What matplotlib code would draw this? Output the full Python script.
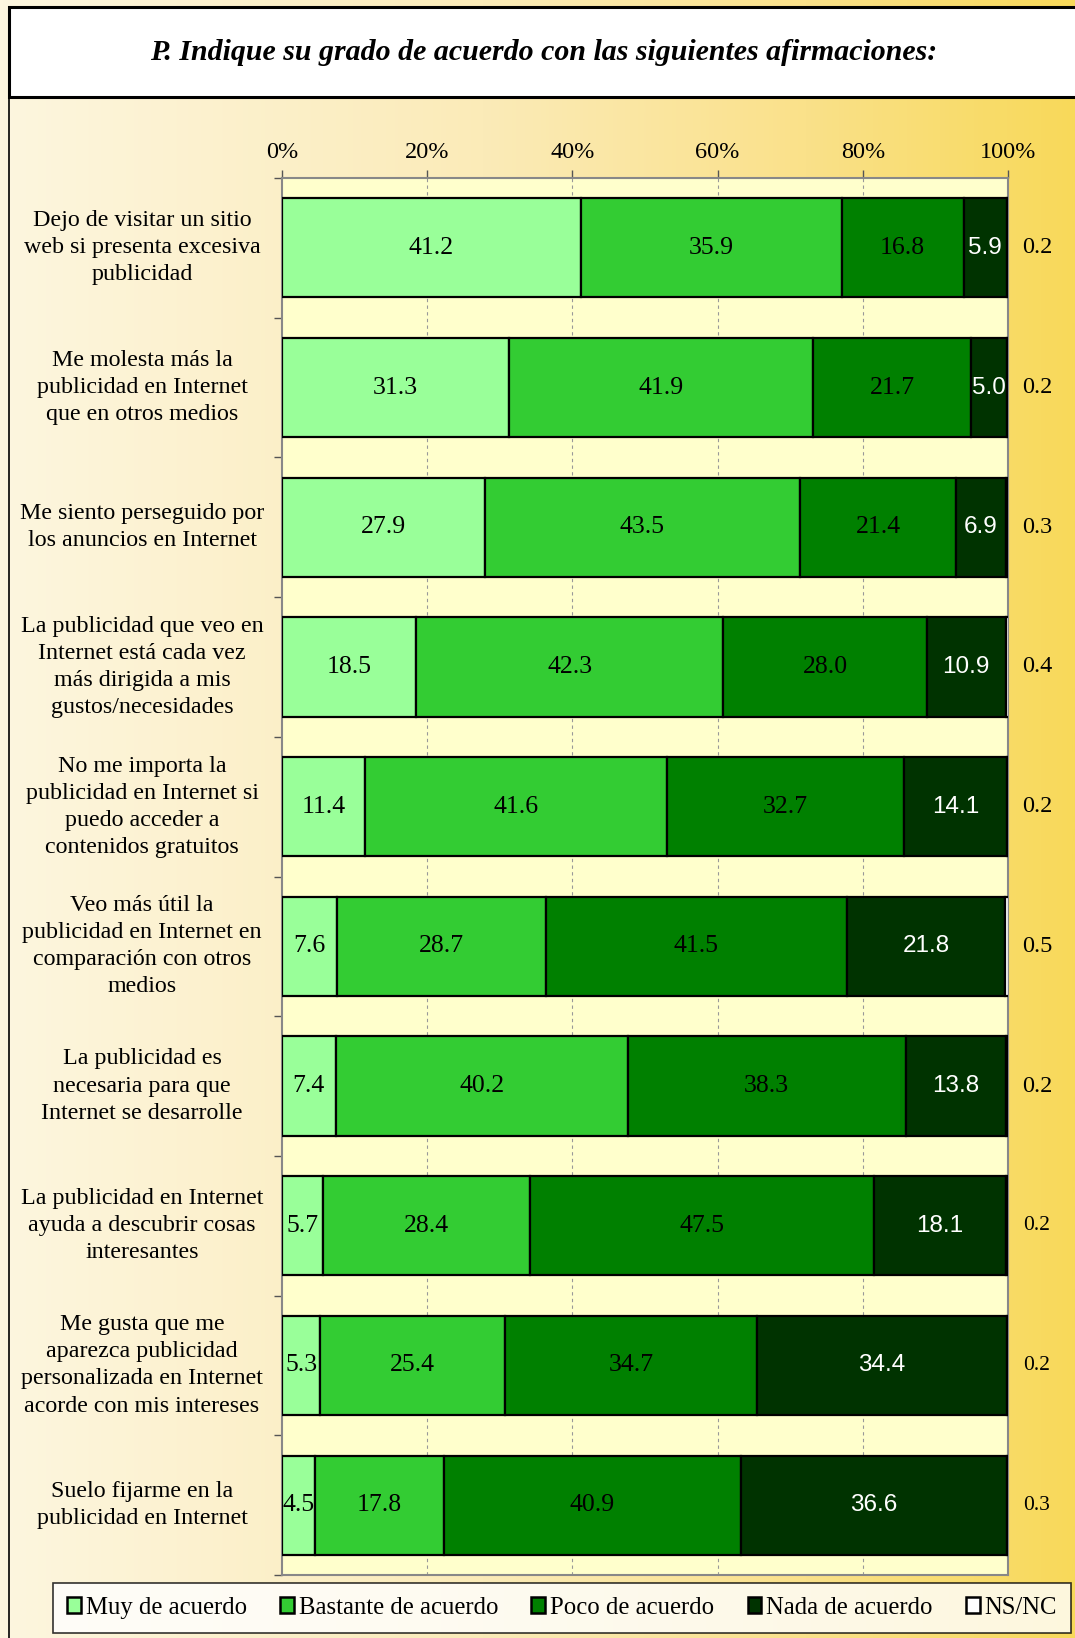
import numpy as np
import matplotlib
matplotlib.use('Agg')
import matplotlib.pyplot as plt
import matplotlib.transforms as mtransforms
from matplotlib.patches import Rectangle, Patch
from matplotlib.colors import LinearSegmentedColormap

plt.rcParams['font.family'] = ['Liberation Serif', 'DejaVu Serif']

categorias = [
    'Dejo de visitar un sitio\nweb si presenta excesiva\npublicidad',
    'Me molesta más la\npublicidad en Internet\nque en otros medios',
    'Me siento perseguido por\nlos anuncios en Internet',
    'La publicidad que veo en\nInternet está cada vez\nmás dirigida a mis\ngustos/necesidades',
    'No me importa la\npublicidad en Internet si\npuedo acceder a\ncontenidos gratuitos',
    'Veo más útil la\npublicidad en Internet en\ncomparación con otros\nmedios',
    'La publicidad es\nnecesaria para que\nInternet se desarrolle',
    'La publicidad en Internet\nayuda a descubrir cosas\ninteresantes',
    'Me gusta que me\naparezca publicidad\npersonalizada en Internet\nacorde con mis intereses',
    'Suelo fijarme en la\npublicidad en Internet',
]
series = ['Muy de acuerdo', 'Bastante de acuerdo', 'Poco de acuerdo',
          'Nada de acuerdo', 'NS/NC']
muy = [41.2, 31.3, 27.9, 18.5, 11.4, 7.6, 7.4, 5.7, 5.3, 4.5]
bastante = [35.9, 41.9, 43.5, 42.3, 41.6, 28.7, 40.2, 28.4, 25.4, 17.8]
poco = [16.8, 21.7, 21.4, 28.0, 32.7, 41.5, 38.3, 47.5, 34.7, 40.9]
nada = [5.9, 5.0, 6.9, 10.9, 14.1, 21.8, 13.8, 18.1, 34.4, 36.6]
nsnc = [0.2, 0.2, 0.3, 0.4, 0.2, 0.5, 0.2, 0.2, 0.2, 0.3]
colores = ['#99FF99', '#33CC33', '#008000', '#003300', '#FFFFFF']
ticks = [0, 20, 40, 60, 80, 100]

W, H = 1075, 1638
fig = plt.figure(figsize=(W / 100, H / 100), dpi=100)

# fondo degradado
bg = fig.add_axes([0, 0, 1, 1], zorder=-10)
cmap = LinearSegmentedColormap.from_list(
    'fondo', [(0, '#FDF6DF'), (0.45, '#FBEBB8'), (0.75, '#FAE18A'), (1, '#F8D95A')])
grad = np.linspace(0, 1, 512).reshape(1, -1)
bg.imshow(grad, aspect='auto', cmap=cmap, extent=[0, 1, 0, 1])
bg.set_xlim(0, 1)
bg.set_ylim(0, 1)
bg.axis('off')

# caja del titulo
fig.patches.append(Rectangle((9 / W, 1 - 97 / H), 1.2, 90 / H, transform=fig.transFigure,
                             facecolor='white', edgecolor='black', lw=2.2, zorder=1))
fig.add_artist(plt.Line2D([9 / W, 9 / W], [0, 1 - 97 / H], transform=fig.transFigure,
                          color='black', lw=1.2))
fig.text(544 / W, 1 - 53 / H, 'P. Indique su grado de acuerdo con las siguientes afirmaciones:',
         ha='center', va='center', fontsize=21.5, fontweight='bold', fontstyle='italic')

ax = fig.add_axes([282 / W, 1 - 1575 / H, 726 / W, (1575 - 178) / H])
ax.set_facecolor('#FFFFCC')

y = np.arange(len(categorias))
datos = [muy, bastante, poco, nada, nsnc]
izq = np.zeros(len(categorias))
for i, vals in enumerate(datos):
    vals = np.array(vals)
    ax.barh(y, vals, left=izq, height=0.71, color=colores[i], edgecolor='black',
            lw=1.6, zorder=3)
    for j in range(len(y)):
        xc = izq[j] + vals[j] / 2
        if i < 3:
            ax.text(xc, y[j], f'{vals[j]:.1f}', ha='center', va='center',
                    fontsize=18.5, color='black', zorder=4)
        elif i == 3:
            ax.text(xc, y[j], f'{vals[j]:.1f}', ha='center', va='center',
                    fontsize=17.5, color='white', family='Liberation Sans', zorder=4)
    izq += vals

tr = mtransforms.blended_transform_factory(ax.transAxes, ax.transData)
for j in range(len(y)):
    ax.text(1.04, y[j], f'{nsnc[j]:.1f}', transform=tr, ha='center', va='center',
            fontsize=17.5 if j < 7 else 15.5, clip_on=False)

trl = mtransforms.blended_transform_factory(fig.transFigure, ax.transData)
for j, c in enumerate(categorias):
    ax.text(142 / W, y[j], c, transform=trl, ha='center', va='center',
            fontsize=17.3, linespacing=1.38, clip_on=False)

ax.set_xlim(0, 100)
ax.set_ylim(len(categorias) - 0.5, -0.5)
ax.xaxis.tick_top()
ax.set_xticks(ticks)
ax.set_xticklabels([f'{t}%' for t in ticks], fontsize=17.5)
ax.set_yticks(np.arange(-0.5, len(categorias), 1))
ax.set_yticklabels([])
ax.tick_params(axis='both', direction='out', length=6, width=1, color='#555555', pad=5)
for x in ticks[1:-1]:
    ax.axvline(x, color='#999999', ls=(0, (3, 3)), lw=0.8, zorder=1)
for s in ax.spines.values():
    s.set_color('#888888')
    s.set_linewidth(1.5)

handles = [Patch(facecolor=c, edgecolor='black', lw=1.8) for c in colores]
leg = fig.legend(handles, series, loc='center', bbox_to_anchor=(562 / W, 1 - 1608 / H),
                 ncol=5, fontsize=17.8, frameon=True, fancybox=False, handlelength=0.55,
                 handleheight=0.6, handletextpad=0.2, columnspacing=1.35, borderpad=0.55)
leg.get_frame().set_edgecolor('black')
leg.get_frame().set_linewidth(1.2)
leg.get_frame().set_facecolor('white')

fig.savefig('out.png', dpi=100)
